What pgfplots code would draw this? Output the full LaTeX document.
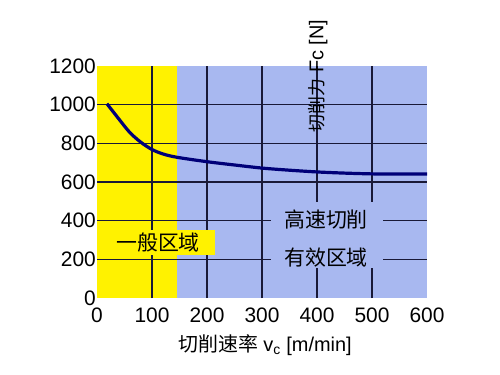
\documentclass[border=0pt]{standalone}
\usepackage{pgfplots}
\pgfplotsset{compat=1.18}
\usepackage{fontspec}
\setmainfont{Liberation Sans}
\newfontfamily\cjk{Noto Sans CJK SC}
\definecolor{bluefill}{RGB}{168,184,240}
\definecolor{gridc}{RGB}{25,25,55}
\definecolor{curvec}{RGB}{0,0,120}
\begin{document}
\begin{tikzpicture}[x=1bp,y=1bp]
\path (0,0) rectangle (500,374);
\begin{axis}[
  at={(97bp,76bp)}, anchor=south west,
  scale only axis, width=330bp, height=232bp,
  xmin=0, xmax=600, ymin=0, ymax=1200,
  xtick={0,100,...,600}, ytick={0,200,...,1200},
  axis line style={draw=none},
  major tick length=0pt,
  tick label style={font=\fontsize{21}{21}\selectfont},
  /pgf/number format/assume math mode=true,
  /pgf/number format/1000 sep={},
  yticklabel style={anchor=east, inner sep=1bp},
  xticklabel style={anchor=north, yshift=-6bp},
  clip=false,
]
\fill[yellow] (axis cs:0,0) rectangle (axis cs:145,1200);
\fill[bluefill] (axis cs:145,0) rectangle (axis cs:600,1200);
\foreach \xx in {100,200,300,400,500} {
  \edef\tmp{\noexpand\draw[gridc, line width=1.5bp] (axis cs:\xx,0) -- (axis cs:\xx,1200);}\tmp
}
\foreach \yy in {200,400,600,800,1000} {
  \edef\tmp{\noexpand\draw[gridc, line width=1.5bp] (axis cs:0,\yy) -- (axis cs:600,\yy);}\tmp
}
\addplot[curvec, line width=3.2bp, smooth, no marks] coordinates {
(18,1005) (40,925) (60,855) (80,805) (100,768) (120,745) (145,728)
(200,705) (250,688) (300,672) (350,661) (400,652) (450,646) (500,642) (550,641) (600,641)
};
\end{axis}
% label boxes
\fill[yellow] (113,119) rectangle (215,144);
\node[font=\cjk\fontsize{21}{21}\selectfont] at (158,131.5) {一般区域};
\fill[bluefill] (271,106) rectangle (383,172);
\node[font=\cjk\fontsize{21}{21}\selectfont] at (326,154) {高速切削};
\node[font=\cjk\fontsize{21}{21}\selectfont] at (326,116) {有效区域};
% axis titles
\node[font=\fontsize{20}{20}\selectfont] at (265,29) {{\cjk 切削速率} v\textsubscript{c} [m/min]};
\node[rotate=90, font=\fontsize{20}{20}\selectfont] at (318,298) {{\cjk\fontsize{18}{18}\selectfont 切削力} Fc [N]};
\end{tikzpicture}
\end{document}
